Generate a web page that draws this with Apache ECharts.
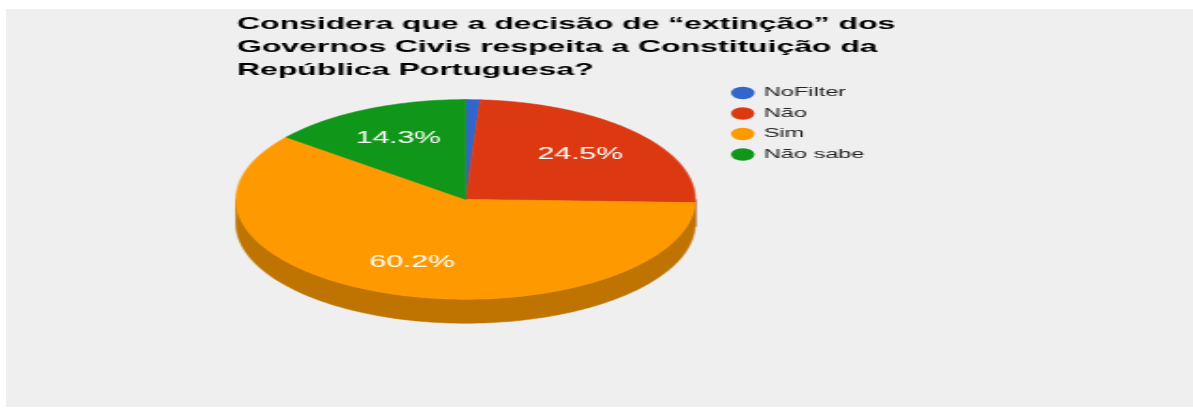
<!DOCTYPE html>
<html>
<head>
<meta charset="utf-8">
<script src="https://cdn.jsdelivr.net/npm/echarts@6/dist/echarts.min.js"></script>
<style>
  html, body { margin: 0; padding: 0; background: #fff; }
  /* the reference is a horizontally stretched picture, so the chart is drawn narrow and stretched */
  #main {
    position: absolute; left: 6px; top: 9px;
    width: 632px; height: 398px;
    transform: scaleX(1.8782); transform-origin: 0 0;
  }
</style>
</head>
<body>
<div id="main"></div>
<script>
// dados
var categories = ['NoFilter', 'Não', 'Sim', 'Não sabe'];
var counts = [1, 24, 59, 14];
var colors = ['#3366cc', '#dc3912', '#ff9900', '#109618'];
var sideColors = ['#264c99', '#a52b0d', '#bf7300', '#0c7112'];

// 3D pie layout (pixels of the unstretched chart)
var pie = { cx: 244.7, cy: 190.4, rx: 122.2, ry: 99.8, depth: 24, labelK: 0.675 };

var total = counts.reduce(function (s, v) { return s + v; }, 0);
var starts = [];
var acc = 0;
counts.forEach(function (v) { starts.push(acc); acc += v; });

function pt(theta, k, dy) {
	return [pie.cx + pie.rx * k * Math.sin(theta), pie.cy - pie.ry * k * Math.cos(theta) + (dy || 0)];
}

function arc(a, b, k, dy) {
	var pts = [];
	var n = Math.max(2, Math.ceil((b - a) / (Math.PI / 180)));
	for (var j = 0; j <= n; j++) {
		pts.push(pt(a + (b - a) * j / n, k, dy));
	}
	return pts;
}

function makeRender(i) {
	return function (params, api) {
		var a = starts[i] / total * Math.PI * 2;
		var b = (starts[i] + counts[i]) / total * Math.PI * 2;
		var children = [];
		// lateral (frente visível entre 90° e 270°)
		var lo = Math.max(a, Math.PI / 2), hi = Math.min(b, Math.PI * 1.5);
		if (lo < hi) {
			var side = arc(lo, hi, 1, 0).concat(arc(lo, hi, 1, pie.depth).reverse());
			children.push({
				type: 'polygon', shape: { points: side },
				style: { fill: sideColors[i], stroke: sideColors[i], lineWidth: 0.6 }
			});
		}
		// topo
		var top = [[pie.cx, pie.cy]].concat(arc(a, b, 1, 0));
		children.push({
			type: 'polygon', shape: { points: top },
			style: { fill: colors[i], stroke: colors[i], lineWidth: 0.6, lineJoin: 'round' }
		});
		var pct = counts[i] / total * 100;
		if (pct >= 5) {
			var p = pt((a + b) / 2, pie.labelK, 0);
			children.push({
				type: 'text', x: p[0], y: p[1],
				style: {
					text: pct.toFixed(1) + '%', fill: '#fff',
					font: '16px "Liberation Sans", Arial, sans-serif',
					align: 'center', verticalAlign: 'middle'
				}
			});
		}
		return { type: 'group', children: children };
	};
}

var chart = echarts.init(document.getElementById('main'));

var option = {
	animation: false,
	backgroundColor: '#efefef',
	color: colors,
	title: {
		text: 'Considera que a decisão de “extinção” dos\nGovernos Civis respeita a Constituição da\nRepública Portuguesa?',
		left: 123,
		top: 4,
		padding: 0,
		textStyle: {
			color: '#000',
			fontFamily: '"Liberation Sans", Arial, sans-serif',
			fontWeight: 'bold',
			fontSize: 17,
			lineHeight: 23
		}
	},
	legend: {
		orient: 'vertical',
		left: 386,
		top: 77,
		padding: 0,
		icon: 'circle',
		itemWidth: 12.5,
		itemHeight: 12.5,
		itemGap: 6.5,
		data: categories,
		textStyle: {
			color: '#222',
			fontFamily: '"Liberation Sans", Arial, sans-serif',
			fontSize: 12.5,
			lineHeight: 14
		}
	},
	series: categories.map(function (name, i) {
		return {
			name: name,
			type: 'custom',
			coordinateSystem: 'none',
			itemStyle: { color: colors[i] },
			data: [[counts[i]]],
			renderItem: makeRender(i)
		};
	})
};

chart.setOption(option);
</script>
</body>
</html>
